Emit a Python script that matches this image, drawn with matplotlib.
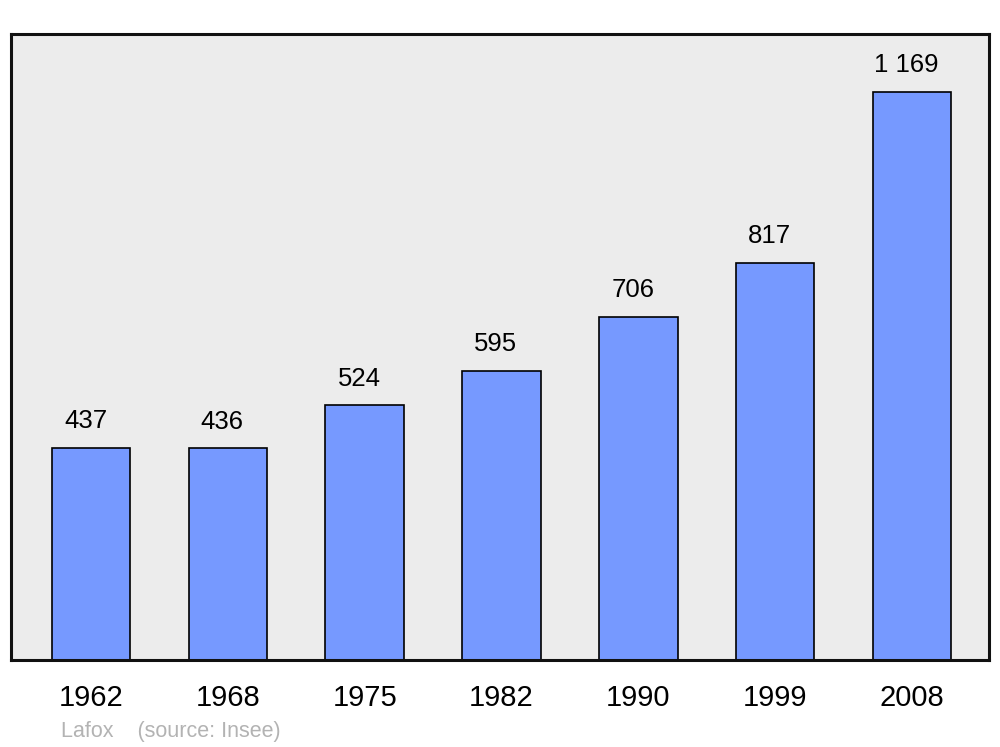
import matplotlib.pyplot as plt
import numpy as np

plt.rcParams['font.family'] = ['Liberation Sans', 'DejaVu Sans']

# Population data
years = ['1962', '1968', '1975', '1982', '1990', '1999', '2008']
population = [437, 436, 524, 595, 706, 817, 1169]
value_labels = ['437', '436', '524', '595', '706', '817', '1 169']

x = np.arange(len(years))

fig = plt.figure(figsize=(10, 7.47), dpi=100)
ax = fig.add_axes([0.011, 0.1165, 0.978, 0.838])
ax.set_facecolor('#ececec')

bars = ax.bar(x, population, width=0.575, color='#7699ff',
              edgecolor='black', linewidth=1.2)

# value labels sit slightly left of the bar centre, as in the original
for bar, lab in zip(bars, value_labels):
    ax.annotate(lab,
                xy=(bar.get_x() + bar.get_width() / 2, bar.get_height()),
                xytext=(-4, 14), textcoords='offset points',
                ha='center', va='baseline', fontsize=18.5)

ax.set_xlim(-0.585, 6.563)
ax.set_ylim(0, 1288)
ax.set_xticks(x)
ax.set_xticklabels(years, fontsize=21)
ax.tick_params(axis='x', length=0, pad=17)
ax.set_yticks([])

for s in ax.spines.values():
    s.set_linewidth(2.2)
    s.set_color('#111111')

fig.text(0.061, 0.014, 'Lafox    (source: Insee)', color='#b3b3b3',
         fontsize=15.5, ha='left', va='baseline')

fig.savefig('out.png', dpi=100)
